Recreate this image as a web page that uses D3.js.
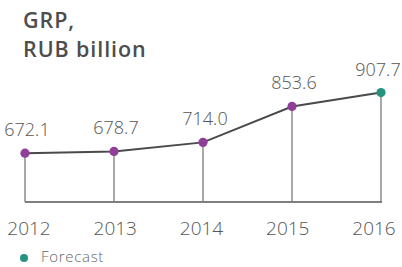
<!DOCTYPE html>
<meta charset="utf-8">
<script src="https://d3js.org/d3.v7.min.js"></script>
<style>
  body { margin: 0; background: #fff; }
  text { font-family: "Open Sans", Lato, sans-serif; }
</style>
<div id="chart"></div>
<script>
// data
const years = ["2012", "2013", "2014", "2015", "2016"];
const grp = [672.1, 678.7, 714.0, 853.6, 907.7];
const forecast = [false, false, false, false, true];

const width = 402, height = 267;
const baseY = 202;

const svg = d3.select("#chart")
  .append("svg")
    .attr("width", width)
    .attr("height", height);

// scales
const x = d3.scalePoint()
  .domain(years)
  .range([25, 381]);

// year labels sit a little inside the tick positions
const xLabel = d3.scalePoint()
  .domain(years)
  .range([29, 374]);

const y = d3.scaleLinear()
  .domain([600, 1000])
  .range([171.7, 68.8]);

const data = years.map((yr, i) => ({year: yr, value: grp[i], forecast: forecast[i]}));

// title
svg.append("text")
  .attr("x", 23).attr("y", 28)
  .attr("font-size", 21.5).attr("font-weight", 600)
  .attr("letter-spacing", 0.9)
  .attr("fill", "#4d4d4d")
  .text("GRP,");
svg.append("text")
  .attr("x", 23).attr("y", 57)
  .attr("font-size", 21.5).attr("font-weight", 600)
  .attr("letter-spacing", 0.9)
  .attr("fill", "#4d4d4d")
  .text("RUB billion");

// baseline
svg.append("line")
  .attr("x1", x(years[0])).attr("x2", x(years[years.length - 1]) + 1)
  .attr("y1", baseY).attr("y2", baseY)
  .attr("stroke", "#555").attr("stroke-width", 1.5);

// stems
svg.selectAll(".stem")
  .data(data)
  .join("line")
    .attr("class", "stem")
    .attr("x1", d => x(d.year)).attr("x2", d => x(d.year))
    .attr("y1", d => y(d.value)).attr("y2", baseY)
    .attr("stroke", "#7a7a7a").attr("stroke-width", 1.3);

// line
svg.append("path")
  .datum(data)
  .attr("fill", "none")
  .attr("stroke", "#4a4a4a")
  .attr("stroke-width", 2)
  .attr("d", d3.line().x(d => x(d.year)).y(d => y(d.value)));

// dots
svg.selectAll(".dot")
  .data(data)
  .join("circle")
    .attr("class", "dot")
    .attr("cx", d => x(d.year))
    .attr("cy", d => y(d.value))
    .attr("r", 4.6)
    .attr("fill", d => d.forecast ? "#25937f" : "#8f3f97");

// value labels
svg.selectAll(".val")
  .data(data)
  .join("text")
    .attr("class", "val")
    .attr("x", (d, i) => i === data.length - 1 ? x(d.year) - 3 : x(d.year) + 2)
    .attr("y", d => y(d.value) - 17)
    .attr("text-anchor", "middle")
    .attr("font-size", 18).attr("font-weight", 300)
    .attr("fill", "#555")
    .text(d => d3.format(".1f")(d.value));

// year labels
svg.selectAll(".yr")
  .data(years)
  .join("text")
    .attr("class", "yr")
    .attr("x", d => xLabel(d))
    .attr("y", 235)
    .attr("text-anchor", "middle")
    .attr("font-size", 19).attr("font-weight", 300)
    .attr("fill", "#555")
    .text(d => d);

// legend
svg.append("circle")
  .attr("cx", 24).attr("cy", 258).attr("r", 4)
  .attr("fill", "#25937f");
svg.append("text")
  .attr("x", 41).attr("y", 262)
  .attr("font-size", 15).attr("font-weight", 300)
  .attr("letter-spacing", 0.7)
  .attr("fill", "#666")
  .text("Forecast");
</script>
